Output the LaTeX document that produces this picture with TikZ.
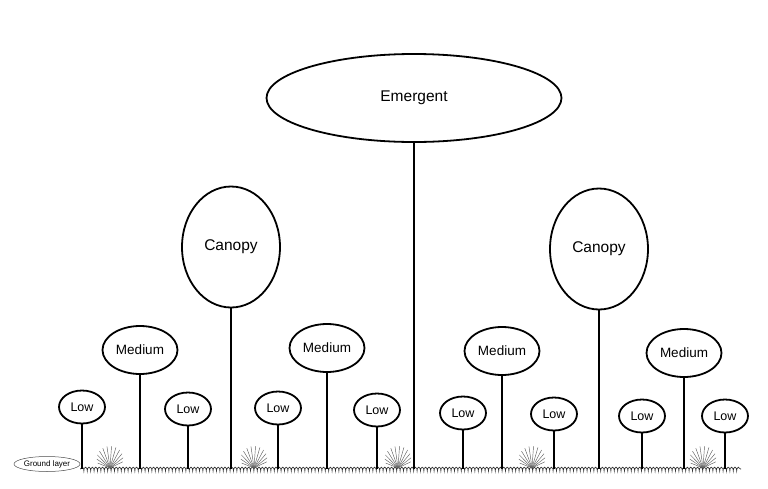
\documentclass[tikz,border=0pt]{standalone}
\usepackage{fontspec}
\setmainfont{Liberation Sans}
\usepackage{tikz}
\usetikzlibrary{
    positioning,          % For relative node placement
    shapes.geometric,     % For the ellipse shape
    decorations.pathmorphing, % For the curly ground line
    calc                  % For coordinate calculations
}

\begin{document}
\begin{tikzpicture}[x=1pt, y=-1pt]

    % --- Style Definitions ---
    \tikzset{
        % A general style for all the tree crowns
        crown/.style={
            ellipse,
            draw=black,
            line width=1.8pt,
            inner sep=0pt,
            text=black
        },
        emergentcrown/.style={crown, minimum width=295pt, minimum height=88pt, font=\fontsize{15.5}{18}\selectfont},
        canopycrown/.style={crown, minimum width=98pt, minimum height=121pt, font=\fontsize{15.5}{18}\selectfont},
        mediumcrown/.style={crown, minimum width=75pt, minimum height=48pt, font=\fontsize{13.5}{16}\selectfont},
        lowcrown/.style={crown, minimum width=46pt, minimum height=33pt, font=\fontsize{12.5}{15}\selectfont},
        % The trunks
        stem/.style={line width=2.2pt, black},
        % The ground and the grass
        groundline/.style={
            gray!40!black, line width=0.7pt,
            decorate, decoration={coil, amplitude=1.8pt, segment length=3.4pt, aspect=0.6}
        },
        blade/.style={gray!75!black, line width=0.45pt}
    }

    \useasboundingbox (0,0) rectangle (768,488);

    % --- Node Placement ---
    \node[emergentcrown] (emergent) at (414,98) {Emergent};

    \node[canopycrown] (canopy1) at (231,247) {Canopy};
    \node[canopycrown] (canopy2) at (599,249) {Canopy};

    \node[mediumcrown] (medium1) at (140,350) {Medium};
    \node[mediumcrown] (medium2) at (327,348) {Medium};
    \node[mediumcrown] (medium3) at (502,351) {Medium};
    \node[mediumcrown] (medium4) at (684,353) {Medium};

    \node[lowcrown] (low1) at (82,407) {Low};
    \node[lowcrown] (low2) at (188,409) {Low};
    \node[lowcrown] (low3) at (278,408) {Low};
    \node[lowcrown] (low4) at (377,410) {Low};
    \node[lowcrown] (low5) at (463,413) {Low};
    \node[lowcrown] (low6) at (554,414) {Low};
    \node[lowcrown] (low7) at (642,416) {Low};
    \node[lowcrown] (low8) at (725,416) {Low};

    \node[ellipse, draw=gray!60!black, line width=0.5pt, minimum width=66pt, minimum height=15pt,
          inner sep=0pt, font=\fontsize{8}{9}\selectfont] (groundlayer) at (47,464) {Ground layer};

    % --- Ground ---
    \coordinate (gl) at (0,469);
    \coordinate (glend) at (741,469);
    \draw[groundline] (groundlayer.east |- gl) -- (glend);

    % grass tufts
    \foreach \gx in {110,254,398,532,703} {
        \foreach \ang in {22,34,...,160} {
            \draw[blade] (\gx,468) -- ++(\ang:{-(8+14*sin(\ang))});
        }
    }

    % --- Drawing Trunks ---
    \draw[stem] (emergent.south) -- (emergent.south |- gl);
    \draw[stem] (canopy1.south) -- (canopy1.south |- gl);
    \draw[stem] (canopy2.south) -- (canopy2.south |- gl);
    \draw[stem] (medium1.south) -- (medium1.south |- gl);
    \draw[stem] (medium2.south) -- (medium2.south |- gl);
    \draw[stem] (medium3.south) -- (medium3.south |- gl);
    \draw[stem] (medium4.south) -- (medium4.south |- gl);
    \draw[stem] (low1.south) -- (low1.south |- gl);
    \draw[stem] (low2.south) -- (low2.south |- gl);
    \draw[stem] (low3.south) -- (low3.south |- gl);
    \draw[stem] (low4.south) -- (low4.south |- gl);
    \draw[stem] (low5.south) -- (low5.south |- gl);
    \draw[stem] (low6.south) -- (low6.south |- gl);
    \draw[stem] (low7.south) -- (low7.south |- gl);
    \draw[stem] (low8.south) -- (low8.south |- gl);

\end{tikzpicture}
\end{document}
